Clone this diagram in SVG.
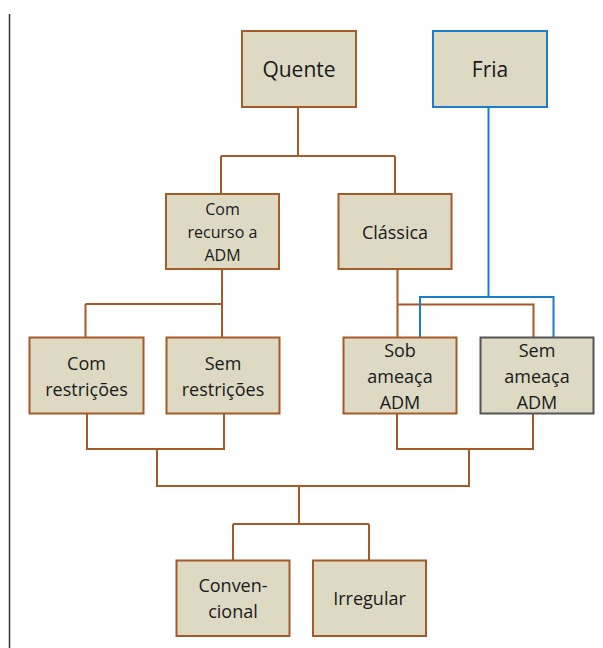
<svg xmlns="http://www.w3.org/2000/svg" width="603" height="648" viewBox="0 0 603 648">
<style>
.box{fill:#ddd9c3;stroke:#a65a26;stroke-width:2}
.blue{stroke:#1b7dcc}
.gray{stroke:#555555}
.ln{fill:none;stroke:#a65a26;stroke-width:2}
.bl{fill:none;stroke:#1b7dcc;stroke-width:2}
text{font-family:"Open Sans","Noto Sans",sans-serif;font-size:18px;fill:#1a1a1a;text-anchor:middle}
.big{font-size:21px}
.sm{font-size:16px}
</style>
<rect width="603" height="648" fill="#ffffff"/>
<line x1="9.5" y1="14" x2="9.5" y2="648" stroke="#333333" stroke-width="1.5"/>
<g id="connectors">
<path class="ln" d="M298,107V156M221,156H395M221,156V194M395,156V194"/>
<path class="ln" d="M222,269V338M85.5,304H222M85.5,304V338"/>
<path class="ln" d="M397.5,269V338M397.5,304.5H533.5V338"/>
<path class="ln" d="M87,414V449H224V414M157,449V486H469V449"/>
<path class="ln" d="M397,414V449H533V414"/>
<path class="ln" d="M299,486V524M233,524H369M233,524V560M369,524V560"/>
<path class="bl" d="M488.5,107V297M420,338V297H553.5V338"/>
</g>
<g id="quente"><rect class="box" x="242" y="31" width="114" height="76"/><text class="big" x="299" y="77">Quente</text></g>
<g id="fria"><rect class="box blue" x="433" y="31" width="114" height="76"/><text class="big" x="490" y="77">Fria</text></g>
<g id="com-recurso"><rect class="box" x="166" y="194" width="113" height="75"/><text class="sm" x="222.5" y="215">Com</text><text class="sm" x="222.5" y="238">recurso a</text><text class="sm" x="222.5" y="261">ADM</text></g>
<g id="classica"><rect class="box" x="338.5" y="194" width="113" height="75"/><text x="395" y="239">Clássica</text></g>
<g id="com-restricoes"><rect class="box" x="29.5" y="337.5" width="114" height="76"/><text x="86.5" y="370">Com</text><text x="86.5" y="396">restrições</text></g>
<g id="sem-restricoes"><rect class="box" x="166.5" y="337.5" width="113" height="76"/><text x="223" y="370">Sem</text><text x="223" y="396">restrições</text></g>
<g id="sob-ameaca"><rect class="box" x="343.5" y="337.5" width="113" height="76"/><text x="400" y="357">Sob</text><text x="400" y="383">ameaça</text><text x="400" y="409">ADM</text></g>
<g id="sem-ameaca"><rect class="box gray" x="480.5" y="337.5" width="113" height="76"/><text x="537" y="357">Sem</text><text x="537" y="383">ameaça</text><text x="537" y="409">ADM</text></g>
<g id="convencional"><rect class="box" x="176.5" y="560.5" width="113" height="75.5"/><text x="233" y="592">Conven-</text><text x="233" y="618">cional</text></g>
<g id="irregular"><rect class="box" x="313" y="560.5" width="113" height="75.5"/><text x="369.5" y="605">Irregular</text></g>
</svg>
